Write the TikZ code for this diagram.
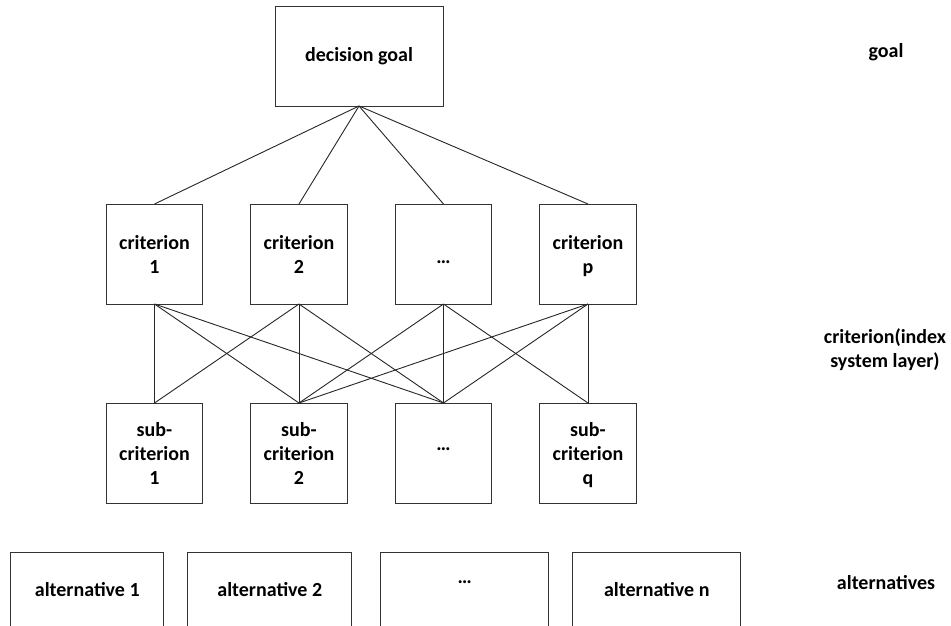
\documentclass[tikz,border=0pt]{standalone}
\usepackage{fontspec}
\setmainfont{Carlito}
\usetikzlibrary{
  positioning      % positions like right of node
}
\newcommand{\liftdots}[1]{\raisebox{#1}[0pt][0pt]{…}}
\newcommand{\nodepth}[1]{\raisebox{0pt}[\height][0pt]{#1}}
\tikzset{
    x=1pt, y=1pt,
    node distance=98pt and 48pt,
    every node/.style = {
        rectangle,
        draw=black!80,
        line width=1pt,
        align=center,
        font=\fontsize{20}{24}\selectfont\bfseries,
        inner sep = 2pt,
        outer sep = 0pt
    },
    link/.style = {draw=black!85, line width=0.9pt},
    goalbox/.append style = {minimum width=168pt, minimum height=100pt},
    critbox/.append style = {minimum width=96.5pt, minimum height=100pt},
    altbox/.append style = {minimum height=76pt},
    layertext/.append style = {draw=none}
}

\begin{document}
\begin{tikzpicture}

  \useasboundingbox (0,0) rectangle (951,-625);

  %% goal
  \node [goalbox] (goal) at (359,-56) {decision goal};

  %% criteria
  \node [critbox] (c1) at (154.5,-254) {criterion\\1};
  \node [critbox, right=of c1] (c2) {criterion\\2};
  \node [critbox, right=of c2] (c3) {\liftdots{-9pt}};
  \node [critbox, right=of c3] (cp) {criterion\\\nodepth{p}};

  \draw [link] (goal.south) -- (c1.north);
  \draw [link] (goal.south) -- (c2.north);
  \draw [link] (goal.south) -- (c3.north);
  \draw [link] (goal.south) -- (cp.north);

  %% sub-criteria
  \node [critbox, below=99pt of c1] (s1) {sub-\\criterion\\1};
  \node [critbox, right=of s1] (s2) {sub-\\criterion\\2};
  \node [critbox, right=of s2] (s3) {\liftdots{2.5pt}};
  \node [critbox, right=of s3] (sq) {sub-\\criterion\\\nodepth{q}};

  \draw [link] (c1.south) -- (s1.north);
  \draw [link] (c1.south) -- (s2.north);
  \draw [link] (c1.south) -- (s3.north);

  \draw [link] (c2.south) -- (s1.north);
  \draw [link] (c2.south) -- (s2.north);
  \draw [link] (c2.south) -- (s3.north);

  \draw [link] (c3.south) -- (s2.north);
  \draw [link] (c3.south) -- (s3.north);
  \draw [link] (c3.south) -- (sq.north);

  \draw [link] (cp.south) -- (s2.north);
  \draw [link] (cp.south) -- (s3.north);
  \draw [link] (cp.south) -- (sq.north);

  %% alternatives
  \node [altbox, minimum width=153pt] (a1) at (87.3,-590) {alternative 1};
  \node [altbox, minimum width=164pt, right=24pt of a1] (a2) {alternative 2};
  \node [altbox, minimum width=168pt, right=29pt of a2] (a3) {\liftdots{6.5pt}};
  \node [altbox, minimum width=168pt, right=24pt of a3] (an) {alternative n};

  %% layer names
  \node [layertext] (Lgoal) at (886,-52) {goal};
  \node [layertext] (Lcrit) at (885,-350) {criterion(index\\system layer)};
  \node [layertext] (Lalt) at (886,-583) {alternatives};

\end{tikzpicture}
\end{document}
